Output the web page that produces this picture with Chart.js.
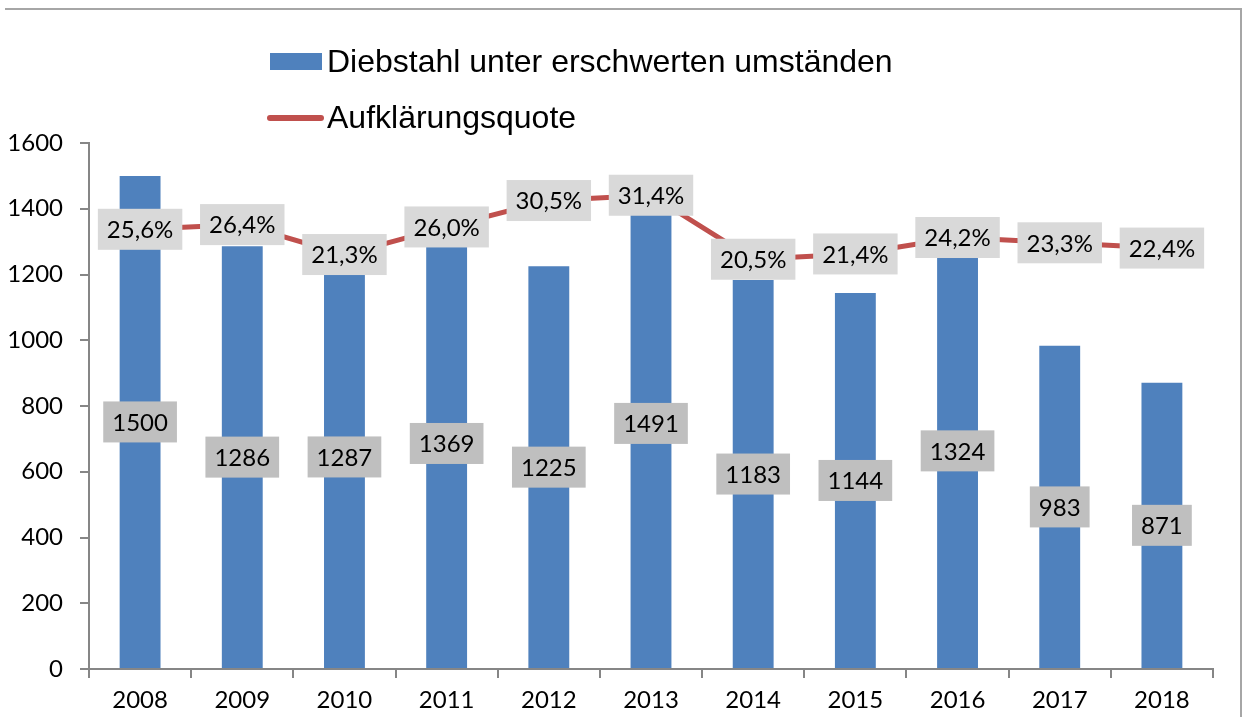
<!DOCTYPE html>
<html>
<head>
<meta charset="utf-8">
<script src="https://cdn.jsdelivr.net/npm/chart.js@4.4.1/dist/chart.umd.min.js"></script>
<style>
  body { margin: 0; background: #ffffff; }
  #wrap { position: relative; width: 1245px; height: 717px; overflow: hidden; }
  #chart { position: absolute; left: 0; top: 0; }
  .frame { position: absolute; left: 5px; top: 8px; width: 1235px; height: 800px;
           border-top: 2px solid #a6a6a6; border-right: 2px solid #a6a6a6; }
  .legend-text { position: absolute; left: 327px; font: 32px "Liberation Sans", Arial, sans-serif;
                 line-height: 36px; color: #000; white-space: nowrap; }
  .legend-box { position: absolute; left: 270px; top: 53px; width: 52px; height: 17px; background: #4f81bd; }
  .legend-line { position: absolute; left: 267px; top: 115px; width: 57px; height: 6px;
                 border-radius: 3px; background: #c0504d; }
</style>
</head>
<body>
<div id="wrap">
  <canvas id="chart" width="1245" height="717"></canvas>
  <div class="frame"></div>
  <div class="legend-box"></div>
  <div class="legend-text" id="legendBars" style="top: 43px;"></div>
  <div class="legend-line"></div>
  <div class="legend-text" id="legendLine" style="top: 99px;"></div>
</div>
<script>
const years = ["2008", "2009", "2010", "2011", "2012", "2013", "2014", "2015", "2016", "2017", "2018"];
const theftCases = [1500, 1286, 1287, 1369, 1225, 1491, 1183, 1144, 1324, 983, 871];
const clearanceRate = [25.6, 26.4, 21.3, 26.0, 30.5, 31.4, 20.5, 21.4, 24.2, 23.3, 22.4];
const barLabel = "Diebstahl unter erschwerten umständen";
const lineLabel = "Aufklärungsquote";

const BAR_COLOR = "#4f81bd";
const LINE_COLOR = "#c0504d";
const AXIS_COLOR = "#868686";
const FONT_FAMILY = 'Lato, "Open Sans", sans-serif';
const LABEL_FONT = "24px " + FONT_FAMILY;

document.getElementById("legendBars").textContent = barLabel;
document.getElementById("legendLine").textContent = lineLabel;

function formatPercent(value) {
  return value.toFixed(1).replace(".", ",") + "%";
}

// draws the grey value boxes (bars in the middle, line on its points)
const valueBoxes = {
  id: "valueBoxes",
  afterDatasetsDraw(chart) {
    const ctx = chart.ctx;
    ctx.save();
    ctx.font = LABEL_FONT;
    ctx.textAlign = "center";
    ctx.textBaseline = "middle";

    [0, 1].forEach((index) => {
      const meta = chart.getDatasetMeta(index);
      const isBar = meta.type === "bar";
      meta.data.forEach((el, i) => {
        const text = isBar ? String(theftCases[i]) : formatPercent(clearanceRate[i]);
        const x = el.x;
        const y = isBar ? (el.y + el.base) / 2 : el.y;
        const w = ctx.measureText(text).width + 18;
        const h = 41;
        ctx.fillStyle = isBar ? "#bfbfbf" : "#d9d9d9";
        ctx.fillRect(x - w / 2, y - h / 2, w, h);
        ctx.fillStyle = "#000000";
        ctx.fillText(text, x, y + 1);
      });
    });

    ctx.restore();
  }
};

new Chart(document.getElementById("chart"), {
  type: "bar",
  data: {
    labels: years,
    datasets: [
      {
        type: "bar",
        label: barLabel,
        data: theftCases,
        backgroundColor: BAR_COLOR,
        categoryPercentage: 1,
        barPercentage: 0.4,
        yAxisID: "y",
        order: 1
      },
      {
        type: "line",
        label: lineLabel,
        data: clearanceRate,
        borderColor: LINE_COLOR,
        borderWidth: 5,
        pointRadius: 0,
        tension: 0,
        yAxisID: "y2",
        order: 0
      }
    ]
  },
  options: {
    responsive: false,
    animation: false,
    layout: {
      padding: { top: 143, right: 32, bottom: 0, left: 0 }
    },
    plugins: {
      legend: { display: false },
      tooltip: { enabled: false }
    },
    scales: {
      x: {
        grid: {
          offset: true,
          drawOnChartArea: false,
          drawTicks: true,
          tickLength: 9,
          color: AXIS_COLOR,
          lineWidth: 2
        },
        border: { color: AXIS_COLOR, width: 2 },
        ticks: {
          color: "#000000",
          font: { family: FONT_FAMILY, size: 24 },
          padding: 8,
          maxRotation: 0
        },
        afterFit(scale) {
          scale.height = 48;
        }
      },
      y: {
        position: "left",
        min: 0,
        max: 1600,
        grid: {
          drawOnChartArea: false,
          drawTicks: true,
          tickLength: 9,
          color: AXIS_COLOR,
          lineWidth: 2
        },
        border: { color: AXIS_COLOR, width: 2 },
        ticks: {
          stepSize: 200,
          color: "#000000",
          font: { family: FONT_FAMILY, size: 24 },
          padding: 17,
          callback: (value) => String(value)
        },
        afterFit(scale) {
          scale.width = 89;
        }
      },
      y2: {
        display: false,
        min: -49.3,
        max: 40.3
      }
    }
  },
  plugins: [valueBoxes]
});
</script>
</body>
</html>
